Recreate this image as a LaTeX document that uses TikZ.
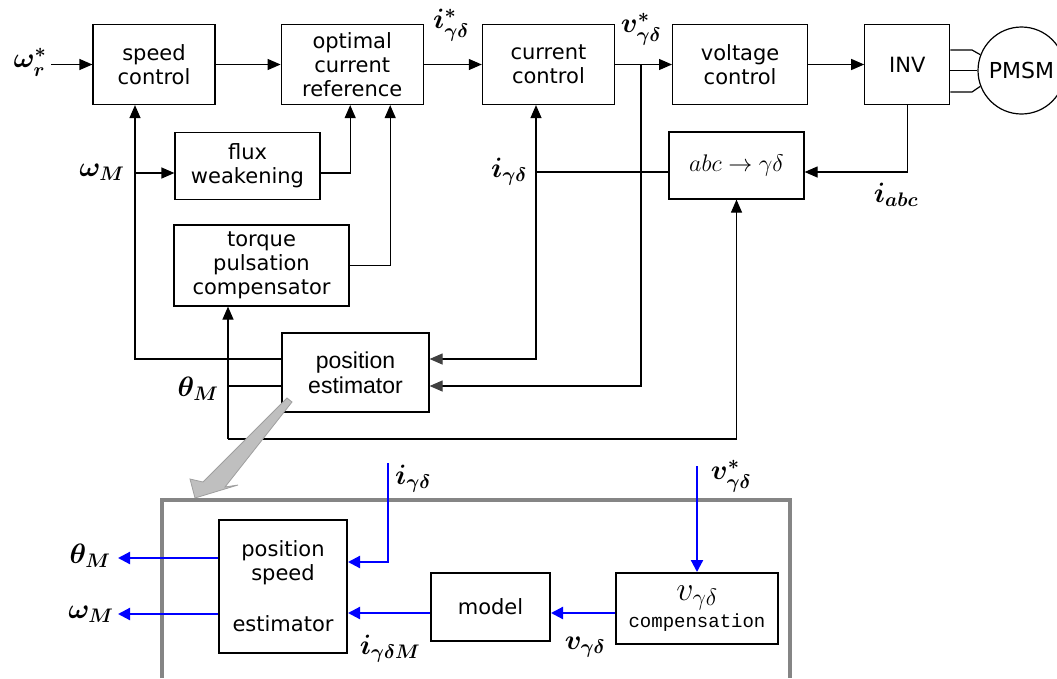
\RequirePackage{fix-cm}
\documentclass[tikz,border=0pt]{standalone}
\usepackage{amsmath}
\usepackage{amssymb}
\usepackage[no-math]{fontspec}
\setmainfont{DejaVu Sans}
\newfontfamily\estfont{Liberation Sans}
\newfontfamily\cmpfont{Liberation Mono}
\usetikzlibrary{positioning, arrows.meta, calc}

\begin{document}
\begin{tikzpicture}[
    x=1pt, y=-1pt,
    blk/.style={draw, line width=1.2pt, inner sep=0pt, align=center,
        minimum height=80pt, font=\fontsize{21}{24}\selectfont},
    est/.style={blk, font=\estfont\fontsize{23}{25}\selectfont},
    sub/.style={draw, line width=2pt, inner sep=0pt, align=center,
        font=\fontsize{21}{24}\selectfont},
    lbl/.style={inner sep=0pt, font=\boldmath\fontsize{28}{28}\selectfont},
    wire/.style={line width=1.2pt},
    arr/.style={wire, -{Triangle[length=13pt, width=11pt]}},
    garr/.style={wire, -{Triangle[length=13pt, width=11pt, color=black!75]}},
    barr/.style={draw=blue, line width=2.2pt, -{Triangle[length=12pt, width=12pt]}},
    frame/.style={draw=black!48, line width=3.5pt},
]
\useasboundingbox (0,0) rectangle (1057,678);

% --- MAIN LOOP (top row) ---
\node[blk, minimum width=122pt] (spd) at (154,64.5) {speed\\control};
\node[blk, minimum width=142pt, right=65pt of spd] (ocr) {optimal\\current\\reference};
\node[blk, minimum width=132pt, right=58pt of ocr] (cur) {current\\control};
\node[blk, minimum width=135pt, right=57pt of cur] (vol) {voltage\\control};
\node[blk, minimum width=85pt, right=56pt of vol] (inv) {INV};
\node[circle, draw, line width=1.2pt, minimum size=87pt, inner sep=0pt,
    font=\fontsize{22}{24}\selectfont] (pmsm) at (1021.5,70.5) {PMSM};

\coordinate (win) at (51,64.5);
\coordinate (vJ) at ([xshift=26pt]cur.east);
\draw[arr] (win) -- (spd);
\draw[arr] (spd) -- (ocr);
\draw[arr] (ocr) -- (cur);
\draw[arr] (cur) -- (vol);
\draw[arr] (vol) -- (inv);

% three phase wires
\coordinate (w1) at (972,50);
\coordinate (w3) at (972,92);
\draw[wire] (w1 -| inv.east) -- (w1) -- (pmsm.159);
\draw[wire] (inv.east |- pmsm.west) -- (pmsm.west);
\draw[wire] (w3 -| inv.east) -- (w3) -- (pmsm.201);

% --- FEEDBACK BLOCKS ---
\node[blk, minimum width=145pt, minimum height=67pt] (flux) at (247.5,166) {flux\\weakening};
\node[blk, minimum width=135pt, minimum height=67pt,
    font=\fontsize{24}{24}\selectfont] (abc) at (736.5,165.5) {$abc\rightarrow\gamma\delta$};
\node[blk, minimum width=175pt, minimum height=81pt] (tpc) at (261.5,265.5) {torque\\pulsation\\compensator};
\node[est, minimum width=147pt, minimum height=79pt] (pos) at (355.5,372.5) {position\\estimator};

\coordinate (wJ) at (135,173);
\coordinate (iJ) at (536,172);
\coordinate (bL) at (228,439);
\coordinate (pI) at ($(pos.east)+(0,-13.5)$);
\coordinate (pV) at ($(pos.east)+(0,13.5)$);
\coordinate (pW) at ($(pos.west)+(0,-13.5)$);
\coordinate (pT) at ($(pos.west)+(0,13.5)$);

% current measurement
\draw[arr] (inv.south) |- (iJ -| abc.east);
\draw[wire] (iJ -| abc.west) -- (iJ);
\draw[arr] (iJ) -- (iJ |- cur.south);
\draw[garr] (iJ) |- (pI);
\draw[garr] (vJ) |- (pV);

% speed and position
\draw[arr] (pW) -| (wJ) -- (wJ |- spd.south);
\draw[arr] (wJ) -- (wJ -| flux.west);
\draw[arr] (wJ -| flux.east) -| ($(ocr.south)+(-2,0)$);
\draw[arr] (tpc.east) -| ($(ocr.south)+(38,0)$);
\draw[wire] (pT) -- (pT -| bL);
\draw[arr] (bL) -- (bL |- tpc.south);
\draw[arr] (bL) -| (abc.south);

% labels
\node[lbl] (lwr) at (30,62) {$\omega_r^*$};
\node[lbl] (lis) at (451,25) {$i_{\gamma\delta}^*$};
\node[lbl] (lvs) at (641,29) {$v_{\gamma\delta}^*$};
\node[lbl] (lwm) at (102,172) {$\omega_M$};
\node[lbl] (lid) at (509,172) {$i_{\gamma\delta}$};
\node[lbl] (lia) at (896,195) {$i_{abc}$};
\node[lbl] (lth) at (198,389) {$\theta_M$};

% zoom arrow
\filldraw[fill=gray!50, draw=gray!75, line width=0.8pt]
    (287,398) -- (292,402) -- (225,487) -- (238,485) -- (195,498)
    -- (190,479) -- (203,482) -- cycle;

% --- ESTIMATOR DETAIL (bottom) ---
\draw[frame] (162,678) -- (162,500) -- (790,500) -- (790,678);

\node[sub, minimum width=128pt, minimum height=133pt] (pse) at (283,586.5) {position\\speed\\[27pt]estimator};
\node[sub, minimum width=119pt, minimum height=68pt] (mdl) at (490.5,607) {model};
\node[sub, minimum width=162pt, minimum height=71pt] (cmp) at (697,608.5)
    {{\fontsize{34}{30}\selectfont$v_{\gamma\delta}$}\\[3pt]{\cmpfont\fontsize{19}{20}\selectfont compensation}};

\coordinate (iin) at (388,463);
\coordinate (vin) at (697,466);
\coordinate (thout) at (118,558);
\coordinate (wout) at (118,614);

\draw[barr] (iin) |- ($(pse.east)+(0,-24.5)$);
\draw[barr] ($(mdl.west)+(0,6)$) -- ($(pse.east)+(0,26.5)$);
\draw[barr] (vin) -- (vin |- cmp.north);
\draw[barr] ($(cmp.west)+(0,4.5)$) -- ($(mdl.east)+(0,6)$);
\draw[barr] (pse.west |- thout) -- (thout);
\draw[barr] (pse.west |- wout) -- (wout);

\node[lbl] (lt2) at (90,556) {$\theta_M$};
\node[lbl] (lw2) at (91,614) {$\omega_M$};
\node[lbl] (li2) at (413,479) {$i_{\gamma\delta}$};
\node[lbl] (lv2) at (731,476) {$v_{\gamma\delta}^*$};
\node[lbl] (lim) at (390,649) {$i_{\gamma\delta M}$};
\node[lbl] (lvd) at (585,647) {$v_{\gamma\delta}$};

\end{tikzpicture}
\end{document}
